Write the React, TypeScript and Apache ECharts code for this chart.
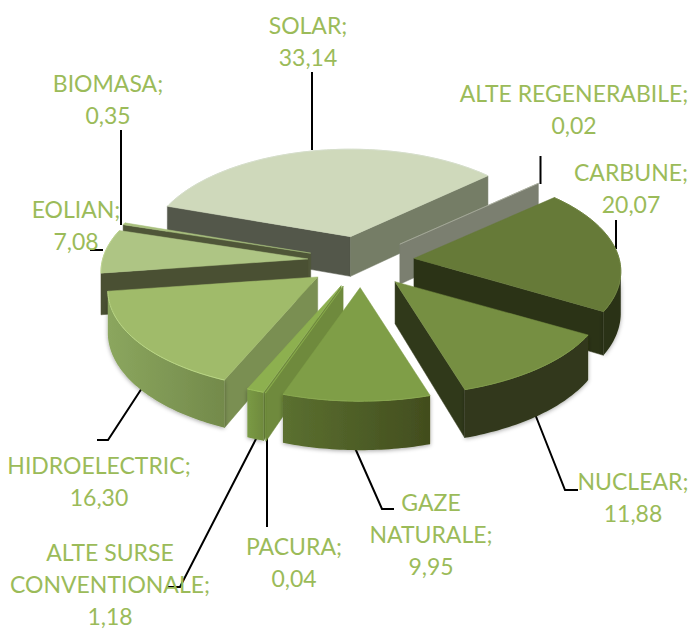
import React, { useEffect, useRef } from "react";
import * as echarts from "echarts";

const categories = ["CARBUNE", "NUCLEAR", "GAZE\nNATURALE", "PACURA", "ALTE SURSE\nCONVENTIONALE", "HIDROELECTRIC", "EOLIAN", "BIOMASA", "SOLAR", "ALTE REGENERABILE"];
const values = [20.07, 11.88, 9.95, 0.04, 1.18, 16.3, 7.08, 0.35, 33.14, 0.02];

// styles, in the order of the categories
const topColors = ["#667a38", "#768f42", "#7f9e47", "#8db04f", "#8db04f", "#a0bb6a", "#aec584", "#a9c07e", "#cfd9bb", "#b0b4a4"];
const startWallColors = ["#2b3316", "#30391a", "#47521f", "#6f8a3d", "#6f8a3d", "#7a8f52", "#4a5033", "#4f5638", "#53574a", "#7b7f70"];
const endWallColors = ["#2b3316", "#30391a", "#47521f", "#6f8a3d", "#6f8a3d", "#7a8f52", "#4a5033", "#4f5638", "#757d66", "#7b7f70"];
const arcLeftColors = ["#2b3316", "#30391a", "#5b7030", "#7a9a45", "#7a9a45", "#8ba65e", "#6d8244", "#6d8244", "#757d66", "#7b7f70"];
const arcRightColors = ["#2b3316", "#30391a", "#424d1e", "#6f8a3d", "#6f8a3d", "#738a4b", "#6d8244", "#6d8244", "#757d66", "#7b7f70"];
const rimColors = ["#6f8440", "#7f9a49", "#89a84f", "#9cc05c", "#9cc05c", "#b9d684", "#bdd48f", "#bdd48f", "#d5decb", "#b0b4a4"];

// layout
const labelCenters = [[631, 188], [633, 497], [431, 534], [294, 562], [110, 584], [99, 481], [76, 225], [108, 99], [308, 41], [574, 109]];
const leaders = [
  [[616, 249], [616, 220]],
  [[535, 414], [565, 490], [578, 490]],
  [[355, 448], [382, 509], [394, 509]],
  [[267, 438], [267, 527]],
  [[257, 437], [180, 587], [168, 587]],
  [[142, 388], [108, 440], [97, 440]],
  [[103, 250], [90, 250]],
  [[121, 225], [121, 130]],
  [[312, 150], [312, 72]],
  [[540.5, 184], [540.5, 156]],
];

const CX = 361, CY = 261, RX = 205.5, RY = 98.8, PERSPECTIVE = 0.13, EXPLODE = 0.26, DEPTH = 41, START = 48, SPREAD = 0.08;
const rad = (d: number) => (d * Math.PI) / 180;
const total = values.reduce((a, b) => a + b, 0);
const spans = (() => {
  let acc = START;
  return values.map((v) => {
    const a = acc;
    acc += (v / total) * 360;
    return [a, acc];
  });
})();
const mid = (i: number) => (spans[i][0] + spans[i][1]) / 2;
const drawOrder = values.map((_, i) => i).sort((a, b) => Math.cos(rad(mid(b))) - Math.cos(rad(mid(a))));

const apex = (i: number) => {
  const u = EXPLODE * Math.sin(rad(mid(i)));
  const v = EXPLODE * Math.cos(rad(mid(i)));
  const w = 1 + PERSPECTIVE * v;
  return { x: CX + (RX * u) / w, y: CY - (RY * v) / w, v };
};
const rimPoint = (i: number, deg: number) => {
  const a = apex(i);
  const s = Math.sin(rad(deg)), c = Math.cos(rad(deg));
  const w = 1 + PERSPECTIVE * c;
  return { x: a.x + (RX * (1 - SPREAD * a.v) * s) / w, y: a.y - (RY * c) / w, v: a.v + c };
};
const depthAt = (v: number) => DEPTH / (1 + PERSPECTIVE * v);
const arcPoints = (i: number, from: number, to: number) => {
  const n = Math.max(1, Math.ceil(Math.abs(to - from)));
  const pts = [];
  for (let k = 0; k <= n; k++) pts.push(rimPoint(i, from + ((to - from) * k) / n));
  return pts;
};
const poly = (points: number[][], style: any) => ({ type: "polygon", shape: { points }, style });

function renderSlice(_: any, api: any) {
  const i = api.value(0);
  const [a0, a1] = spans[i];
  const a = apex(i);
  const children: any[] = [];
  const flat = (n: number) => ((n % 360) + 360) % 360;
  const radialWall = (deg: number, fill: string) => {
    const r = rimPoint(i, deg);
    children.push(poly([[a.x, a.y], [r.x, r.y], [r.x, r.y + depthAt(r.v)], [a.x, a.y + depthAt(a.v)]], { fill, stroke: fill, lineWidth: 0.5 }));
  };
  if (Math.sin(rad(flat(a0))) < 0) radialWall(a0, startWallColors[i]);
  if (Math.sin(rad(flat(a1))) > 0) radialWall(a1, endWallColors[i]);
  const from = Math.max(a0, 97), to = Math.min(a1, 263);
  if (to > from) {
    const pts = arcPoints(i, from, to);
    const outline = pts.map((p) => [p.x, p.y]).concat(pts.slice().reverse().map((p) => [p.x, p.y + depthAt(p.v)]));
    children.push(poly(outline, {
      fill: { type: "linear", x: 0, y: 0, x2: 1, y2: 0, colorStops: [{ offset: 0, color: arcLeftColors[i] }, { offset: 1, color: arcRightColors[i] }] },
      shadowBlur: 4, shadowColor: "rgba(0,0,0,0.35)", shadowOffsetY: 1,
    }));
  }
  const arc = arcPoints(i, a0, a1).map((p) => [p.x, p.y]);
  children.push(poly([[a.x, a.y], ...arc], { fill: topColors[i], stroke: topColors[i], lineWidth: 0.5 }));
  children.push({ type: "polyline", shape: { points: arc }, style: { fill: "none", stroke: rimColors[i], lineWidth: 1 } });
  return { type: "group", children };
}

const labelText = (i: number) => `${categories[i]};\n${values[i].toFixed(2).replace(".", ",")}`;

export default function App() {
  const ref = useRef<HTMLDivElement>(null);
  useEffect(() => {
    const chart = echarts.init(ref.current!, null, { renderer: "svg" });
    chart.setOption({
      animation: false,
      graphic: [
        ...leaders.map((points) => ({
          type: "polyline", z: 1, shape: { points }, style: { fill: "none", stroke: "#000000", lineWidth: 2 },
        })),
        ...categories.map((_, i) => ({
          type: "text", z: 3, x: labelCenters[i][0], y: labelCenters[i][1],
          style: { text: labelText(i), align: "center", verticalAlign: "middle", fill: "#9bbb59", font: "23px Lato", lineHeight: 32 },
        })),
      ],
      series: [{
        type: "custom", coordinateSystem: "none", z: 2, silent: true, clip: false,
        renderItem: renderSlice,
        data: drawOrder.map((i) => [i]),
      }],
    });
    return () => chart.dispose();
  }, []);
  return <div ref={ref} style={{ position: "absolute", left: 0, top: 0, width: 692, height: 630, background: "#ffffff" }} />;
}
